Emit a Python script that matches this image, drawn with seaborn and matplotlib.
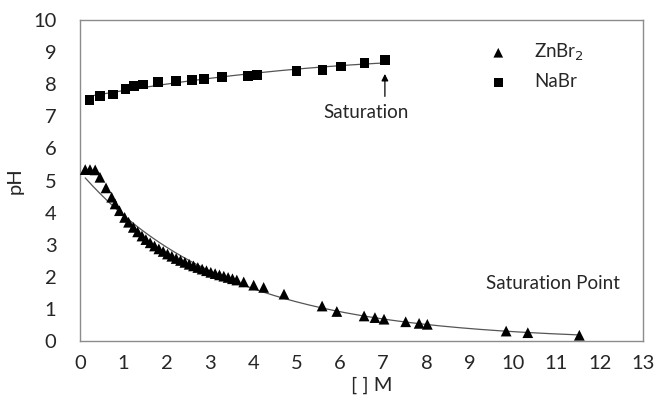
import numpy as np
import pandas as pd
import matplotlib
matplotlib.use("Agg")
import matplotlib.pyplot as plt
import seaborn as sns

# ZnBr2 measurements (concentration M, pH)
znbr2_conc = [0.12, 0.23, 0.35, 0.46, 0.60, 0.73, 0.81, 0.91, 1.03, 1.12,
              1.23, 1.33, 1.43, 1.52, 1.62, 1.72, 1.82, 1.92, 2.02, 2.12,
              2.22, 2.32, 2.42, 2.52, 2.62, 2.72, 2.82, 2.92, 3.02, 3.12,
              3.22, 3.32, 3.42, 3.52, 3.62, 3.78, 4.01, 4.24, 4.71, 5.59,
              5.93, 6.56, 6.81, 7.02, 7.52, 7.83, 8.02, 9.84, 10.34, 11.53]
znbr2_ph = [5.34, 5.34, 5.33, 5.10, 4.77, 4.48, 4.27, 4.06, 3.85, 3.70,
            3.54, 3.40, 3.27, 3.16, 3.06, 2.96, 2.87, 2.79, 2.71, 2.64,
            2.57, 2.51, 2.45, 2.39, 2.34, 2.29, 2.24, 2.19, 2.14, 2.10,
            2.06, 2.02, 1.98, 1.94, 1.90, 1.84, 1.74, 1.67, 1.46, 1.09,
            0.92, 0.78, 0.73, 0.68, 0.60, 0.55, 0.52, 0.31, 0.26, 0.18]

# NaBr measurements
nabr_conc = [0.22, 0.46, 0.77, 1.05, 1.25, 1.45, 1.81, 2.22, 2.58, 2.87,
             3.27, 3.87, 4.09, 5.00, 5.60, 6.02, 6.57, 7.04]
nabr_ph = [7.50, 7.64, 7.68, 7.86, 7.94, 7.99, 8.06, 8.09, 8.13, 8.17,
           8.23, 8.26, 8.29, 8.42, 8.44, 8.55, 8.67, 8.75]

x_ticks = list(range(0, 14))
y_ticks = list(range(0, 11))

zn = pd.DataFrame({"conc": znbr2_conc, "pH": znbr2_ph})
na = pd.DataFrame({"conc": nabr_conc, "pH": nabr_ph})

# trendlines fitted to the data
zn_coef = np.polyfit(zn["conc"], np.log(zn["pH"]), 2)
zn_x = np.linspace(zn["conc"].min(), zn["conc"].max(), 200)
zn_fit = pd.DataFrame({"conc": zn_x, "pH": np.exp(np.polyval(zn_coef, zn_x))})
na_coef = np.polyfit(na["conc"], na["pH"], 2)
na_x = np.linspace(na["conc"].min(), na["conc"].max(), 200)
na_fit = pd.DataFrame({"conc": na_x, "pH": np.polyval(na_coef, na_x)})

sns.set_style("white")
plt.rcParams["font.family"] = ["Lato", "DejaVu Sans"]

fig = plt.figure(figsize=(6.57, 4.03), dpi=100)
ax = fig.add_axes([0.1218, 0.1538, 0.8569, 0.7966])

sns.lineplot(data=zn_fit, x="conc", y="pH", ax=ax, color="#555555", lw=0.9)
sns.lineplot(data=na_fit, x="conc", y="pH", ax=ax, color="#555555", lw=0.9)
sns.scatterplot(data=zn, x="conc", y="pH", ax=ax, marker="^", s=60,
                color="black", edgecolor="none", label="ZnBr$_2$", zorder=3)
sns.scatterplot(data=na, x="conc", y="pH", ax=ax, marker="s", s=50,
                color="black", edgecolor="none", label="NaBr", zorder=3)

ax.set_xlim(0, 13)
ax.set_ylim(0, 10)
ax.set_xticks(x_ticks)
ax.set_yticks(y_ticks)
ax.tick_params(axis="x", length=0, pad=10, labelsize=14.5)
ax.tick_params(axis="y", length=0, pad=17, labelsize=14.5)
ax.set_xlabel("[ ] M", fontsize=14.5)
ax.xaxis.set_label_coords(0.519, -0.112)
ax.set_ylabel("pH", fontsize=14.5, labelpad=7)
for sp in ax.spines.values():
    sp.set_color("#8c8c8c")
    sp.set_linewidth(1.0)

# saturation arrow and labels
ax.annotate("", xy=(7.04, 8.32), xytext=(7.04, 7.62),
            arrowprops=dict(arrowstyle="-|>", color="black", lw=0.9,
                            shrinkA=0, shrinkB=0, mutation_scale=10))
ax.text(6.6, 7.12, "Saturation", fontsize=13.5, ha="center", va="center")
ax.text(9.37, 1.8, "Saturation Point", fontsize=13.5, ha="left", va="center")

leg = ax.legend(loc="upper right", bbox_to_anchor=(0.925, 0.985), frameon=False,
                fontsize=13.5, handletextpad=0.9, labelspacing=0.55,
                markerscale=0.9)

fig.savefig("out.png", dpi=100)
